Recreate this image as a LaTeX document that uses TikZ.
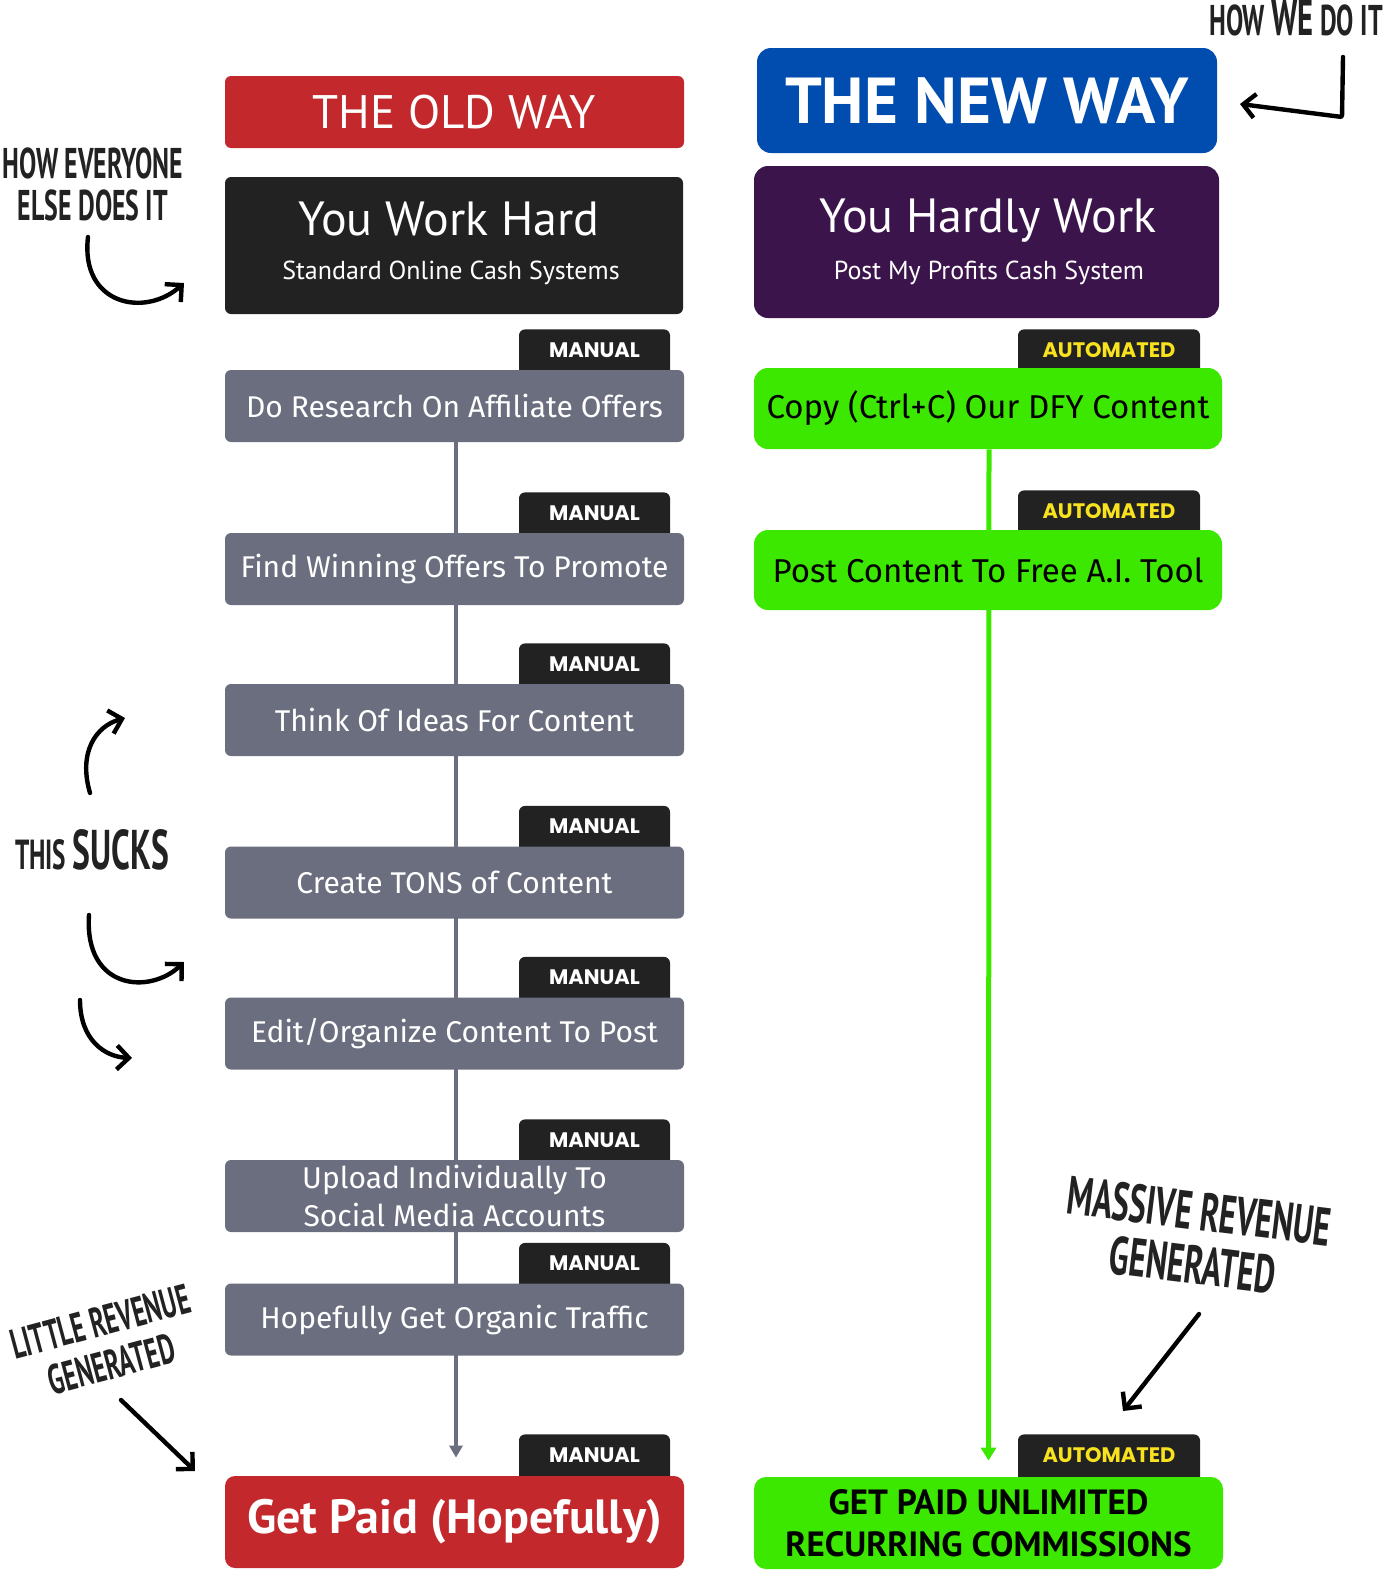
\documentclass[tikz,border=0pt]{standalone}
\usepackage{fontspec}
\setmainfont{Fira Sans}
\newfontfamily\titlefont{PT Sans}
\newfontfamily\tagfont{Poppins}
\newfontfamily\handfont[FakeStretch=0.6]{PT Sans}
\usetikzlibrary{arrows.meta,positioning,backgrounds}
\definecolor{oldred}{RGB}{195,41,44}
\definecolor{darkbox}{RGB}{34,34,34}
\definecolor{stepgray}{RGB}{107,110,126}
\definecolor{newblue}{RGB}{0,77,175}
\definecolor{newpurple}{RGB}{60,20,76}
\definecolor{autogreen}{RGB}{61,232,0}
\definecolor{autoyellow}{RGB}{248,226,30}
\tikzset{
  basic/.style   = {rectangle, inner sep=0pt, align=center},
  headbox/.style = {basic, rounded corners=3pt, text=white},
  tagbox/.style  = {basic, anchor=north, fill=darkbox, rounded corners=3pt,
                    minimum height=25.5pt, text height=7.3pt, text depth=5pt,
                    font=\tagfont\bfseries\fontsize{10.5}{12}\selectfont},
  oldstep/.style = {basic, fill=stepgray, rounded corners=3pt, text=white,
                    minimum width=229.5pt, minimum height=36pt,
                    font=\fontsize{15}{19}\selectfont},
  newstep/.style = {basic, fill=autogreen, rounded corners=7pt, text=black,
                    minimum width=234pt, minimum height=40.5pt,
                    font=\fontsize{16.5}{19}\selectfont},
  hand/.style    = {font=\handfont\bfseries\fontsize{21.5}{21}\selectfont, align=center, text=darkbox},
  handarrow/.style = {draw=black, line width=2.2pt, line cap=round,
                    -{Straight Barb[length=6pt,width=12pt,line width=2.2pt]}}
}

\begin{document}
\begin{tikzpicture}[x=0.5pt,y=-0.5pt]
\useasboundingbox (0,0) rectangle (1398,1580);

% the old way
\node[headbox, fill=oldred, minimum width=229.5pt, minimum height=36pt,
      font=\titlefont\fontsize{23.5}{30}\selectfont] (oldway) at (454.5,112) {THE OLD WAY};
\node[headbox, fill=darkbox, minimum width=229pt, minimum height=68.5pt] (workhard) at (454,245.5) {};
\node[anchor=base, text=white, font=\titlefont\fontsize{24}{30}\selectfont] (workhardt) at (449,235) {You Work Hard};
\node[anchor=base, text=white, font=\titlefont\fontsize{13}{15}\selectfont] (workhards) at (451,279) {Standard Online Cash Systems};

\foreach \y/\txt [count=\i] in {406/Do Research On Affiliate Offers,
    569/Find Winning Offers To Promote, 720/Think Of Ideas For Content,
    882.5/Create TONS of Content, 1033.5/{Edit/Organize Content To Post},
    1196/{Upload Individually To\\Social Media Accounts},
    1319.5/Hopefully Get Organic Traffic}{
  \node[tagbox, minimum width=75.5pt, text=white] (m\i) at (594.5,\y-77) {MANUAL};
  \node[oldstep] (o\i) at (454.5,\y) {\txt};
}
\node[tagbox, minimum width=75.5pt, text=white] (mend) at (594.5,1434) {MANUAL};
\node[basic, fill=oldred, rounded corners=5pt, minimum width=229.5pt, minimum height=46pt,
      text=white, font=\titlefont\bfseries\fontsize{24}{30}\selectfont] (oend) at (454.5,1522) {Get Paid (Hopefully)};

% the new way
\node[headbox, fill=newblue, rounded corners=7pt, minimum width=230pt, minimum height=52.5pt,
      font=\titlefont\bfseries\fontsize{32.5}{36}\selectfont] (newway) at (987,100.5) {THE NEW WAY};
\node[headbox, fill=newpurple, rounded corners=7pt, minimum width=232.5pt, minimum height=76pt] (hardly) at (986.5,242) {};
\node[anchor=base, text=white, font=\titlefont\fontsize{24}{30}\selectfont] (hardlyt) at (988,232) {You Hardly Work};
\node[anchor=base, text=white, font=\titlefont\fontsize{13}{15}\selectfont] (hardlys) at (989,279) {Post My Profits Cash System};

\node[tagbox, minimum width=91pt, text=autoyellow] (a1) at (1109,329) {AUTOMATED};
\node[newstep] (n1) at (988,408.5) {Copy (Ctrl+C) Our DFY Content};
\node[tagbox, minimum width=91pt, text=autoyellow] (a2) at (1109,490) {AUTOMATED};
\node[newstep, minimum height=40pt] (n2) at (988,570) {Post Content To Free A.I. Tool};
\node[tagbox, minimum width=91pt, text=autoyellow] (aend) at (1109,1434) {AUTOMATED};
\node[newstep, rounded corners=6pt, minimum width=234.5pt, minimum height=46pt,
      font=\titlefont\bfseries\fontsize{17.5}{21}\selectfont] (nend) at (988.5,1523)
      {GET PAID UNLIMITED\\RECURRING COMMISSIONS};

% connectors behind the boxes
\begin{scope}[on background layer]
\draw[stepgray, line width=2pt, -{Triangle[length=6pt,width=6.5pt]}]
  ([xshift=0.75pt]o1.south) -- ([xshift=0.75pt,yshift=9pt]oend.north);
\draw[autogreen, line width=2.5pt, -{Triangle[length=6.5pt,width=7.5pt]}]
  ([xshift=0.5pt]n1.south) -- ([yshift=8pt]nend.north);
\end{scope}

% hand written notes
\node[hand] (everyone) at (93,184) {HOW EVERYONE\\ELSE DOES IT};
\coordinate (everyoneend) at (184,283);
\draw[handarrow] (88,237) .. controls (80,305) and (145,318) .. (everyoneend);

\node[hand, anchor=north] (wedo) at (1296,-7) {HOW {\fontsize{25.5}{25}\selectfont WE} DO IT};
\coordinate (wedoend) at (1240,104);
\draw[handarrow, rounded corners=1pt] (1343,57) -- (1342,117) -- (wedoend);

\node[hand, font=\handfont\bfseries\fontsize{21}{21}\selectfont] (sucks) at (92,850) {THIS {\fontsize{28}{28}\selectfont SUCKS}};
\coordinate (sucksup) at (125,718);
\coordinate (sucksmid) at (184,962);
\coordinate (suckslow) at (132,1058);
\draw[handarrow] (90,793) .. controls (78,752) and (96,726) .. (sucksup);
\draw[handarrow] (89,915) .. controls (84,990) and (150,995) .. (sucksmid);
\draw[handarrow] (80,1000) .. controls (80,1040) and (105,1057) .. (suckslow);

\node[hand, rotate=15, font=\handfont\bfseries\fontsize{21}{22}\selectfont] (little) at (106,1343) {LITTLE REVENUE\\GENERATED};
\coordinate (littleend) at (195,1471);
\draw[handarrow] (121,1400) -- (littleend);

\node[hand, rotate=-7, font=\handfont\bfseries\fontsize{27}{27}\selectfont] (massive) at (1196,1238) {MASSIVE REVENUE\\GENERATED};
\coordinate (massiveend) at (1123,1411);
\draw[handarrow] (1199,1314) -- (massiveend);
\end{tikzpicture}
\end{document}
